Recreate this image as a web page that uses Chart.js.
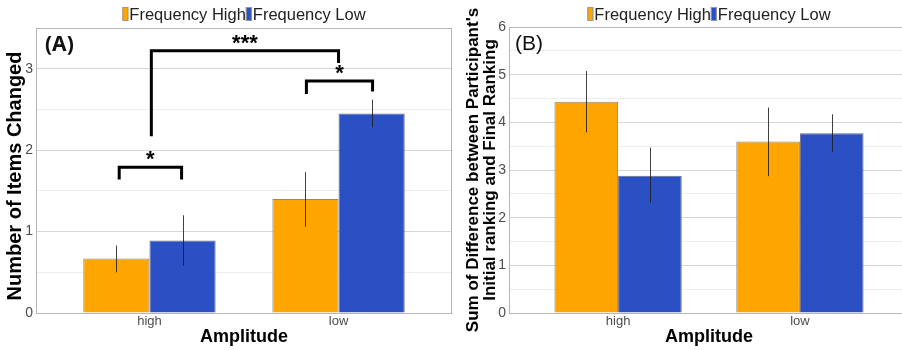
<!DOCTYPE html>
<html lang="en">
<head>
  <meta charset="UTF-8">
  <title>Items Changed / Ranking Difference by Amplitude</title>
  <style>
    html, body { margin: 0; padding: 0; background: #fff; overflow: hidden; }
    body { width: 902px; height: 350px; position: relative; }
    .panel { position: absolute; top: 0; height: 350px; }
    #panelA { left: 0; width: 454px; }
    #panelB { left: 451px; width: 458px; }
  </style>
</head>
<body>
  <div class="panel" id="panelA"><canvas id="chartA"></canvas></div>
  <div class="panel" id="panelB"><canvas id="chartB"></canvas></div>

  <script src="https://cdn.jsdelivr.net/npm/chart.js"></script>
  <script>
    // Data
    const categories = ['high', 'low'];
    const seriesNames = ['Frequency High', 'Frequency Low'];

    // (A) number of items changed
    const itemsFreqHigh = [0.67, 1.40];
    const itemsFreqLow = [0.89, 2.45];
    const itemsFreqHighErr = [[0.50, 0.83], [1.06, 1.73]];
    const itemsFreqLowErr = [[0.58, 1.20], [2.28, 2.62]];

    // (B) sum of difference between initial and final ranking
    const rankFreqHigh = [4.43, 3.60];
    const rankFreqLow = [2.88, 3.77];
    const rankFreqHighErr = [[3.79, 5.08], [2.87, 4.31]];
    const rankFreqLowErr = [[2.31, 3.47], [3.38, 4.17]];

    // significance brackets on (A): x from, x to, bar y, left foot y, right foot y, label
    const bracketsA = [
      [0.84, 1.17, 1.79, 1.64, 1.64, '*'],
      [1.83, 2.18, 2.85, 2.69, 2.72, '*'],
      [1.01, 2.00, 3.22, 2.17, 3.07, '***']
    ];

    const colors = ['#ffa500', '#2a50c4'];
    const FONT = '"Liberation Sans", Arial, sans-serif';

    function makeDatasets(high, low, highErr, lowErr) {
      return [
        { label: seriesNames[0], data: categories.map((c, i) => ({ x: i + 1, y: high[i] })), err: highErr,
          backgroundColor: colors[0], borderColor: '#8a8a8a', borderWidth: 1 },
        { label: seriesNames[1], data: categories.map((c, i) => ({ x: i + 1, y: low[i] })), err: lowErr,
          backgroundColor: colors[1], borderColor: '#6a6a8a', borderWidth: 1 }
      ];
    }

    // frame around the plot area
    const framePlugin = {
      id: 'frame',
      beforeDatasetsDraw(chart) {
        const { ctx, chartArea: a } = chart;
        ctx.save();
        ctx.strokeStyle = '#b5b5b5';
        ctx.lineWidth = 1;
        ctx.strokeRect(a.left + 0.5, a.top + 0.5, a.right - a.left - 1, a.bottom - a.top);
        ctx.restore();
      }
    };

    // error bars
    const errorPlugin = {
      id: 'errbars',
      afterDatasetsDraw(chart) {
        const { ctx } = chart;
        const ys = chart.scales.y;
        ctx.save();
        ctx.strokeStyle = 'rgba(30,30,30,0.85)';
        ctx.lineWidth = 1;
        chart.data.datasets.forEach((ds, di) => {
          chart.getDatasetMeta(di).data.forEach((bar, i) => {
            const x = Math.round(bar.x) + 0.5;
            ctx.beginPath();
            ctx.moveTo(x, ys.getPixelForValue(ds.err[i][0]));
            ctx.lineTo(x, ys.getPixelForValue(ds.err[i][1]));
            ctx.stroke();
          });
        });
        ctx.restore();
      }
    };

    // legend centred over the plot, y title, panel letter and brackets
    const decorPlugin = {
      id: 'decor',
      afterDraw(chart, args, opts) {
        const { ctx, chartArea: a } = chart;
        const xs = chart.scales.x, ys = chart.scales.y;
        ctx.save();

        // legend
        ctx.font = '16.5px ' + FONT;
        ctx.textBaseline = 'middle';
        const boxW = 6, gap = 1;
        const widths = seriesNames.map(n => boxW + gap + ctx.measureText(n).width);
        let x = (a.left + a.right) / 2 - widths.reduce((s, w) => s + w, 0) / 2;
        const ly = opts.legendY;
        seriesNames.forEach((n, i) => {
          ctx.fillStyle = colors[i];
          ctx.fillRect(x, ly - 7, boxW, 14);
          ctx.strokeStyle = '#999';
          ctx.lineWidth = 1;
          ctx.strokeRect(x + 0.5, ly - 6.5, boxW - 1, 13);
          ctx.fillStyle = '#222';
          ctx.fillText(n, x + boxW + gap, ly + 1);
          x += widths[i];
        });

        // y axis title, rotated
        ctx.save();
        ctx.font = 'bold ' + opts.yTitleSize + 'px ' + FONT;
        ctx.fillStyle = '#000';
        ctx.textAlign = 'center';
        ctx.textBaseline = 'alphabetic';
        opts.yTitle.forEach((line, i) => {
          ctx.save();
          ctx.translate(opts.yTitleX[i], opts.yTitleY);
          ctx.rotate(-Math.PI / 2);
          ctx.fillText(line, 0, 0);
          ctx.restore();
        });
        ctx.restore();

        // panel letter
        ctx.font = opts.letterFont;
        ctx.fillStyle = '#111';
        ctx.fillText(opts.letter, a.left + opts.letterDx, a.top + 17);

        // brackets
        (opts.brackets || []).forEach(b => {
          const x1 = xs.getPixelForValue(b[0]), x2 = xs.getPixelForValue(b[1]);
          const y = ys.getPixelForValue(b[2]);
          ctx.strokeStyle = '#000';
          ctx.lineWidth = 3;
          ctx.lineJoin = 'miter';
          ctx.beginPath();
          ctx.moveTo(x1, ys.getPixelForValue(b[3]));
          ctx.lineTo(x1, y);
          ctx.lineTo(x2, y);
          ctx.lineTo(x2, ys.getPixelForValue(b[4]));
          ctx.stroke();
          ctx.font = 'bold 22px ' + FONT;
          ctx.fillStyle = '#000';
          ctx.textAlign = 'center';
          ctx.textBaseline = 'alphabetic';
          ctx.fillText(b[5], (x1 + x2) / 2, y - 1);
          ctx.textAlign = 'left';
        });
        ctx.restore();
      }
    };

    function makeChart(id, cfg) {
      return new Chart(document.getElementById(id), {
        type: 'bar',
        data: { datasets: cfg.datasets },
        options: {
          responsive: true,
          maintainAspectRatio: false,
          animation: false,
          categoryPercentage: 0.7,
          barPercentage: 1,
          layout: { padding: { top: cfg.top, right: cfg.right, left: 0, bottom: 0 } },
          plugins: {
            legend: { display: false },
            tooltip: { enabled: false },
            decor: {
              legendY: 14,
              yTitle: cfg.yTitle, yTitleSize: cfg.yTitleSize, yTitleX: cfg.yTitleX, yTitleY: cfg.yTitleY,
              letter: cfg.letter, letterFont: cfg.letterFont, letterDx: cfg.letterDx,
              brackets: cfg.brackets
            }
          },
          scales: {
            x: {
              type: 'linear',
              offset: false,
              min: 0.4,
              max: 2.6,
              afterBuildTicks: s => { s.ticks = [{ value: 1 }, { value: 2 }]; },
              afterFit: s => { s.height = 37; },
              grid: { display: false, drawTicks: false, offset: false },
              border: { display: false },
              ticks: {
                callback: v => categories[v - 1],
                color: '#4d4d4d',
                font: { family: FONT, size: 13 },
                padding: 1,
                maxRotation: 0
              },
              title: {
                display: true,
                text: 'Amplitude',
                color: '#000',
                font: { family: FONT, size: 18, weight: 'bold' },
                padding: { top: 0, bottom: 2 }
              }
            },
            y: {
              min: 0,
              max: cfg.ymax,
              afterFit: s => { s.width = cfg.yWidth; },
              border: { display: false },
              grid: {
                drawTicks: false,
                color: c => (c.tick.value % 1 === 0 ? '#d6d6d6' : '#eeeeee')
              },
              ticks: {
                stepSize: 0.5,
                autoSkip: false,
                callback: v => (v % 1 === 0 ? v : ''),
                color: '#4d4d4d',
                font: { family: FONT, size: 14 },
                padding: 3
              }
            }
          }
        },
        plugins: [framePlugin, errorPlugin, decorPlugin]
      });
    }

    makeChart('chartA', {
      datasets: makeDatasets(itemsFreqHigh, itemsFreqLow, itemsFreqHighErr, itemsFreqLowErr),
      ymax: 3.5,
      yWidth: 36,
      top: 28,
      right: 2,
      yTitle: ['Number of Items Changed'],
      yTitleSize: 20,
      yTitleX: [21],
      yTitleY: 176,
      letter: '(A)',
      letterFont: 'bold 21px "Noto Sans", ' + FONT,
      letterDx: 9,
      brackets: bracketsA
    });

    makeChart('chartB', {
      datasets: makeDatasets(rankFreqHigh, rankFreqLow, rankFreqHighErr, rankFreqLowErr),
      ymax: 6,
      yWidth: 58,
      top: 27,
      right: 0,
      yTitle: ["Sum of Difference between Participant's", 'Initial ranking and Final Ranking'],
      yTitleSize: 17,
      yTitleX: [27, 44],
      yTitleY: 170,
      letter: '(B)',
      letterFont: '21px ' + FONT,
      letterDx: 6,
      brackets: []
    });
  </script>
</body>
</html>
